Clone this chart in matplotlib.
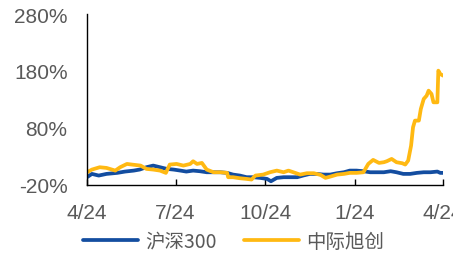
import numpy as np
import pandas as pd
import matplotlib
matplotlib.use("Agg")
import matplotlib.pyplot as plt
from matplotlib.transforms import Bbox

# day offsets from 2023-04-24 and cumulative return (%)
hs300_days = [0, 5, 12, 20, 31, 39, 48, 54, 61, 68,
              75, 82, 89, 96, 102, 109, 116, 123, 130, 137,
              144, 150, 157, 164, 171, 178, 185, 189, 195, 202,
              209, 216, 222, 229, 236, 243, 250, 257, 264, 270,
              277, 284, 291, 298, 305, 312, 318, 325, 332, 339,
              346, 353, 360, 363, 366]
hs300_vals = [-6.5, -0.7, -3.6, -0.7, 1.1, 3.4, 5.1, 6.9, 11.0, 13.9,
              11.0, 8.1, 6.9, 5.1, 3.4, 5.1, 4.0, 2.2, 2.2, 2.2,
              1.1, -1.9, -3.6, -6.5, -6.5, -7.7, -9.5, -13.6, -7.7, -6.5,
              -6.5, -6.5, -3.6, -0.7, -0.7, -1.9, -1.9, 0.5, 2.2, 5.1,
              5.1, 4.0, 2.2, 2.2, 2.2, 4.0, 2.2, -0.7, -0.7, 1.1,
              2.2, 2.2, 3.4, 1.1, 1.1]

zjxc_days = [0, 5, 13, 20, 29, 34, 41, 46, 55, 61,
             68, 75, 81, 85, 92, 99, 106, 109, 113, 118,
             123, 130, 137, 144, 145, 150, 157, 164, 169, 173,
             181, 188, 195, 202, 207, 212, 219, 226, 233, 240,
             245, 250, 257, 264, 270, 277, 284, 289, 294, 300,
             305, 308, 313, 318, 324, 327, 330, 333, 335, 337,
             341, 343, 346, 349, 351, 354, 356, 360, 361, 363,
             366]
zjxc_vals = [2.2, 6.9, 11.0, 9.8, 5.1, 11.0, 16.8, 15.7, 13.9, 8.1,
             6.9, 5.1, 1.1, 15.7, 16.8, 13.9, 16.8, 21.5, 16.8, 18.6,
             6.9, 2.2, 2.2, 1.1, -6.5, -6.5, -8.3, -9.5, -10.6, -3.6,
             -1.9, 2.2, 5.1, 2.2, 5.1, 2.2, -1.9, 0.5, 0.5, -2.5,
             -7.7, -5.4, -1.9, -0.7, 1.1, 1.1, 2.2, 16.8, 23.9, 18.6,
             19.8, 21.5, 25.6, 19.8, 18.0, 15.7, 22.7, 49.0, 81.2, 92.9,
             92.9, 113.3, 130.9, 136.7, 145.5, 139.6, 125.0, 125.0, 180.6, 174.7,
             171.8]

tick_dates = ["2023-04-24", "2023-07-24", "2023-10-24", "2024-01-24", "2024-04-24"]
tick_labels = ["4/24", "7/24", "10/24", "1/24", "4/24"]
y_ticks = [-20, 80, 180, 280]

start = pd.Timestamp("2023-04-24")
hs300_x = start + pd.to_timedelta(hs300_days, unit="D")
zjxc_x = start + pd.to_timedelta(zjxc_days, unit="D")

plt.rcParams['font.family'] = ['Liberation Sans', 'DejaVu Sans']

fig = plt.figure(figsize=(4.68, 2.55), dpi=100)
ax = fig.add_axes([0.186, 0.271, 0.761, 0.670])

ax.plot(hs300_x, hs300_vals, color='#134DA0', lw=2.7, label='沪深300', solid_capstyle='round')
ax.plot(zjxc_x, zjxc_vals, color='#FFB912', lw=2.7, label='中际旭创', solid_capstyle='round')

ax.set_xlim(pd.Timestamp(tick_dates[0]), pd.Timestamp(tick_dates[-1]))
ax.set_ylim(-20, 280)
ax.set_xticks(pd.to_datetime(tick_dates))
ax.set_xticklabels(tick_labels)
ax.set_yticks(y_ticks)
ax.set_yticklabels([f"{v}%" for v in y_ticks])

for s in ['top', 'right']:
    ax.spines[s].set_visible(False)
for s in ['left', 'bottom']:
    ax.spines[s].set_color('black')
    ax.spines[s].set_linewidth(1.0)

ax.tick_params(axis='x', direction='in', length=4, width=1, colors='black',
               labelcolor='#595959', labelsize=15, pad=13)
ax.tick_params(axis='y', length=0, labelcolor='#595959', labelsize=15, pad=14)

# the right-most label is cut at the edge of the original picture
last = ax.get_xticklabels()[-1]
last.set_clip_box(Bbox.from_extents(0, 0, 453, 255))
last.set_clip_on(True)

leg = fig.legend(loc='lower center', bbox_to_anchor=(0.5, -0.06), ncol=2, frameon=False,
                 handlelength=2.8, columnspacing=1.4, handletextpad=0.4,
                 prop={'family': ['Noto Sans CJK SC', 'DejaVu Sans'], 'size': 14})
for t in leg.get_texts():
    t.set_color('#595959')

fig.savefig('out.png', dpi=100)
